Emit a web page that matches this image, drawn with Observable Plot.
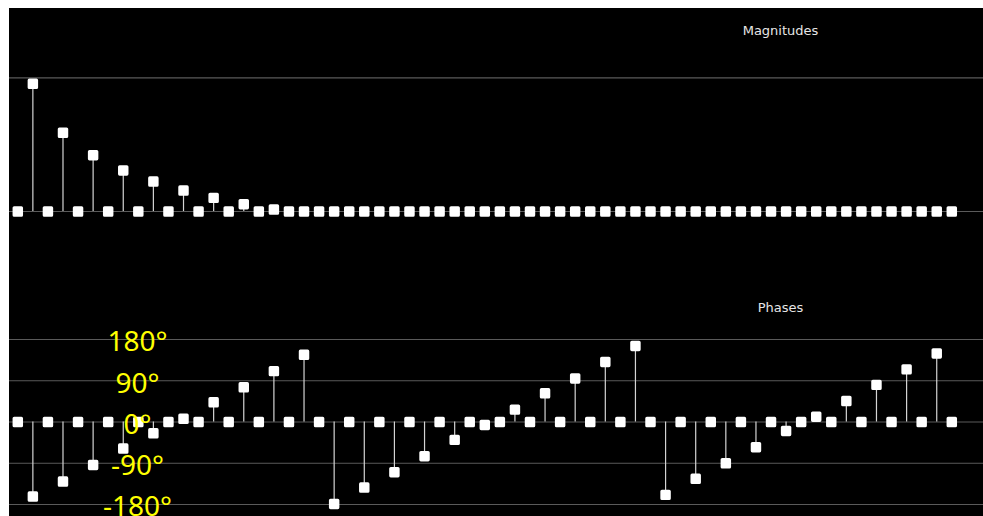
<!DOCTYPE html>
<html>
<head>
<meta charset="utf-8">
<script src="https://cdn.jsdelivr.net/npm/d3@7"></script>
<script src="https://cdn.jsdelivr.net/npm/@observablehq/plot@0.6"></script>
<style>
  html, body { margin: 0; padding: 0; background: #ffffff; }
  #frame { position: absolute; left: 9px; top: 8px; width: 974px; height: 508px; background: #000; overflow: hidden; }
  #frame svg { display: block; }
</style>
</head>
<body>
<div id="frame"></div>
<script>
// harmonic index 0..62
const harmonics = d3.range(63);

// magnitudes of odd harmonics (others are 0)
const oddHarmonics = [1, 3, 5, 7, 9, 11, 13, 15, 17, 19, 21, 23, 25, 27, 29, 31,
  33, 35, 37, 39, 41, 43, 45, 47, 49, 51, 53, 55, 57, 59, 61];
const oddMagnitudes = [0.955, 0.589, 0.421, 0.307, 0.224, 0.157, 0.102, 0.055, 0.015, 0, 0, 0, 0, 0, 0, 0,
  0, 0, 0, 0, 0, 0, 0, 0, 0, 0, 0, 0, 0, 0, 0];
// phases of odd harmonics in degrees (others are 0)
const oddPhases = [-162.7, -130, -93.7, -58, -24.7, 7, 43, 75.6, 111, 146.6,
  -178.7, -143, -109.6, -74.7, -39, -6.5, 27, 62.5, 95, 131,
  166, -159, -124, -90, -55, -19.6, 11.6, 45.8, 81, 114.8, 149.6];

const magnitudeGrid = [0, 1];
const phaseTicks = [180, 90, 0, -90, -180];

const magTitle = "Magnitudes";
const phaseTitle = "Phases";

const magnitudes = harmonics.map(i => {
  const k = oddHarmonics.indexOf(i);
  return {i, v: k >= 0 ? oddMagnitudes[k] : 0};
});
const phases = harmonics.map(i => {
  const k = oddHarmonics.indexOf(i);
  return {i, v: k >= 0 ? oddPhases[k] : 0};
});

const W = 974;
const xScale = {domain: [0, 62], range: [8.3, 942.3]};
const gridColor = "#5a5a5a";
const stemColor = "#d4d4d4";
const dotOpts = {x: "i", y: "v", symbol: "square", r: 4.1, fill: "#fff", stroke: "#fff", strokeWidth: 3.2, strokeLinejoin: "round"};
const titleOpts = {frameAnchor: "top-left", dx: 771, textAnchor: "middle", lineAnchor: "middle",
  fill: "#e6e6e6", fontSize: 13, fontFamily: "DejaVu Sans", letterSpacing: "0.5px"};

const magPlot = Plot.plot({
  width: W, height: 252,
  marginLeft: 0, marginRight: 0, marginTop: 0, marginBottom: 0,
  style: {background: "#000", color: "#fff", overflow: "hidden"},
  x: {...xScale, axis: null},
  y: {domain: [0, 1], range: [203, 69.3], axis: null},
  marks: [
    Plot.ruleY(magnitudeGrid, {stroke: gridColor, strokeWidth: 1.2}),
    Plot.ruleX(magnitudes, {x: "i", y1: 0, y2: "v", stroke: stemColor, strokeWidth: 1.2}),
    Plot.dot(magnitudes, dotOpts),
    Plot.text([magTitle], {...titleOpts, dy: 22})
  ]
});

const phasePlot = Plot.plot({
  width: W, height: 256,
  marginLeft: 0, marginRight: 0, marginTop: 0, marginBottom: 0,
  style: {background: "#000", color: "#fff", overflow: "hidden"},
  x: {...xScale, axis: null},
  y: {domain: [-180, 180], range: [244, 79], axis: null},
  marks: [
    Plot.ruleY(phaseTicks, {stroke: gridColor, strokeWidth: 1.2}),
    Plot.ruleX(phases, {x: "i", y1: 0, y2: "v", stroke: stemColor, strokeWidth: 1.2}),
    Plot.dot(phases, dotOpts),
    Plot.text([phaseTitle], {...titleOpts, dy: 47}),
    Plot.text(phaseTicks, {y: d => d, text: d => `${d}°`, frameAnchor: "left", dx: 128, dy: 3,
      textAnchor: "middle", lineAnchor: "middle", fill: "#ffff00", fontSize: 28, fontFamily: "Noto Sans"})
  ]
});

const frame = document.getElementById("frame");
frame.appendChild(magPlot);
frame.appendChild(phasePlot);
</script>
</body>
</html>
